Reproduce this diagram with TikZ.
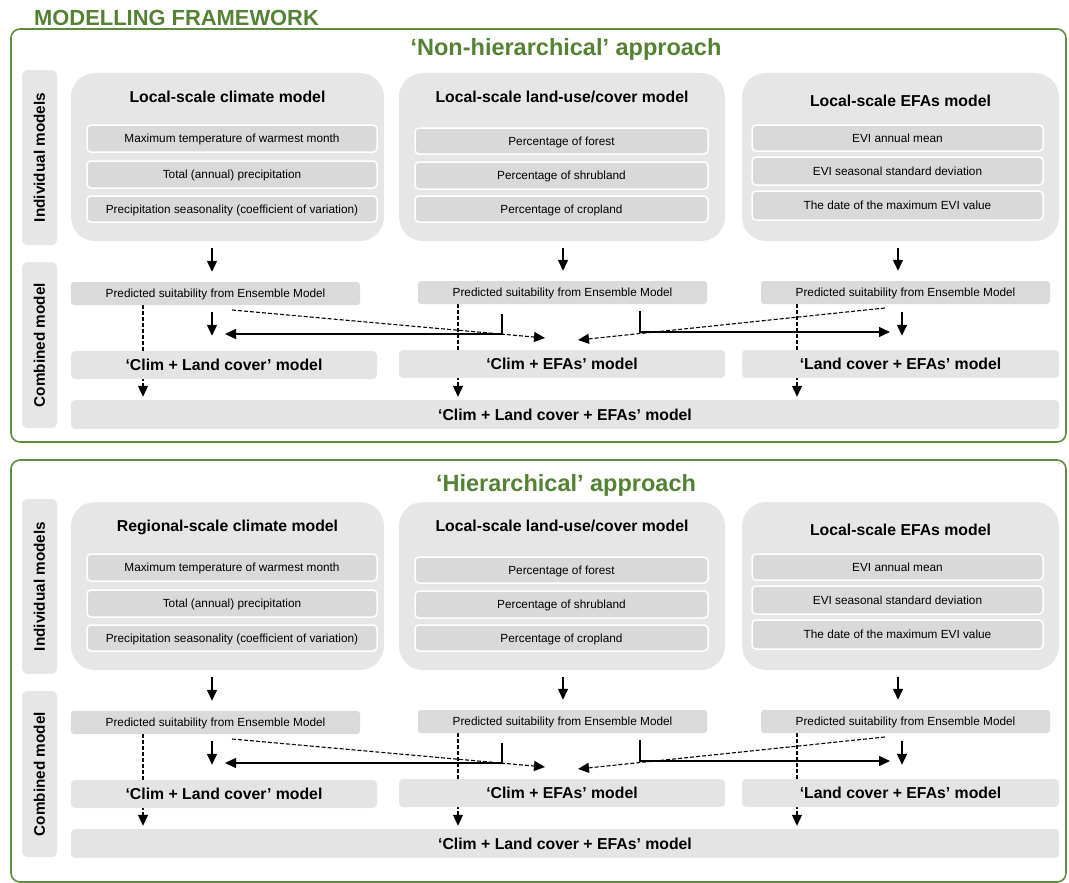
\documentclass[tikz,border=0pt]{standalone}
\usepackage{fontspec}
\setmainfont{Liberation Sans}
\usetikzlibrary{arrows.meta,backgrounds}
\definecolor{fwgreen}{HTML}{548235}
\definecolor{framegreen}{HTML}{5E8C3E}
\definecolor{bigfill}{HTML}{E6E6E6}
\definecolor{innerfill}{HTML}{D9D9D9}
\definecolor{predfill}{HTML}{DADADA}
\definecolor{combfill}{HTML}{E4E4E4}

\newcommand\fwbox[7]{\node[#6,minimum width={(#4-#2)*1pt},minimum height={(#5-#3)*1pt}] (#1) at ({(#2+#4)/2},{(#3+#5)/2}) {#7};}

\newcommand\fwsection[3]{%
\begin{scope}[yshift=-#2pt]
\fwbox{#1sI}{22}{70}{57}{245}{sidebox}{}
\node[sidelabel] (#1sIl) at (#1sI) {Individual models};
\fwbox{#1sC}{22}{262}{57}{428}{sidebox}{}
\node[sidelabel] (#1sCl) at (#1sC) {Combined model};
% individual model boxes
\fwbox{#1clim}{71}{73}{384}{241}{bigbox}{}
\node[boxtitle] (#1climT) at (227.5,97) {#3};
\fwbox{#1c1}{87}{125}{377}{152}{inbox}{Maximum temperature of warmest month}
\fwbox{#1c2}{87}{161}{377}{188}{inbox}{Total (annual) precipitation}
\fwbox{#1c3}{87}{196}{377}{222}{inbox}{Precipitation seasonality (coefficient of variation)}
\fwbox{#1land}{399}{73}{725}{241}{bigbox}{}
\node[boxtitle] (#1landT) at (562,97) {Local-scale land-use/cover model};
\fwbox{#1l1}{415}{128}{708}{154}{inbox}{Percentage of forest}
\fwbox{#1l2}{415}{162}{708}{189}{inbox}{Percentage of shrubland}
\fwbox{#1l3}{415}{196}{708}{222}{inbox}{Percentage of cropland}
\fwbox{#1efa}{742}{73}{1059}{241}{bigbox}{}
\node[boxtitle] (#1efaT) at (900.5,101) {Local-scale EFAs model};
\fwbox{#1e1}{752}{125}{1043}{151}{inbox}{EVI annual mean}
\fwbox{#1e2}{752}{157}{1043}{185}{inbox}{EVI seasonal standard deviation}
\fwbox{#1e3}{752}{191}{1043}{220}{inbox}{The date of the maximum EVI value}
% predicted suitability
\fwbox{#1pc}{71}{282}{360}{305}{predbox}{Predicted suitability from Ensemble Model}
\fwbox{#1pl}{418}{281}{707}{304}{predbox}{Predicted suitability from Ensemble Model}
\fwbox{#1pe}{761}{281}{1050}{304}{predbox}{Predicted suitability from Ensemble Model}
% combined models
\fwbox{#1cl}{71}{351}{377}{379}{combbox}{‘Clim + Land cover’ model}
\fwbox{#1ce}{399}{350}{725}{378}{combbox}{‘Clim + EFAs’ model}
\fwbox{#1le}{742}{350}{1059}{378}{combbox}{‘Land cover + EFAs’ model}
\fwbox{#1all}{71}{400}{1059}{429}{combbox}{‘Clim + Land cover + EFAs’ model}
% helper coordinates
\coordinate (#1xa) at (212,0);
\coordinate (#1xb) at (563,0);
\coordinate (#1xc) at (898,0);
\coordinate (#1xd) at (143,0);
\coordinate (#1xe) at (458,0);
\coordinate (#1xf) at (797,0);
\coordinate (#1xg) at (902,0);
\coordinate (#1d4s) at (232,310);
\coordinate (#1d4e) at (545,338);
\coordinate (#1d7s) at (885,308);
\coordinate (#1d7e) at (578,340);
\coordinate (#1h5s) at (502,314);
\coordinate (#1h5e) at (225,334);
\coordinate (#1h6s) at (640,311);
\coordinate (#1h6e) at (890,332);
% connectors
\draw[arr,shorten <=7pt,shorten >=10pt] (#1clim.south -| #1xa) -- (#1pc.north -| #1xa);
\draw[arr,shorten <=7pt,shorten >=10pt] (#1land.south -| #1xb) -- (#1pl.north -| #1xb);
\draw[arr,shorten <=7pt,shorten >=10pt] (#1efa.south -| #1xc) -- (#1pe.north -| #1xc);
\begin{pgfonlayer}{background}
\draw[darr,shorten >=3pt] (#1pc.south -| #1xd) -- (#1all.north -| #1xd);
\draw[darr,shorten >=3pt] (#1pl.south -| #1xe) -- (#1all.north -| #1xe);
\draw[darr,shorten >=3pt] (#1pe.south -| #1xf) -- (#1all.north -| #1xf);
\end{pgfonlayer}
\draw[arr,shorten <=7pt,shorten >=15pt] (#1pc.south -| #1xa) -- (#1cl.north -| #1xa);
\draw[arr,shorten <=8pt,shorten >=14pt] (#1pe.south -| #1xg) -- (#1le.north -| #1xg);
\draw[darr] (#1d4s) -- (#1d4e);
\draw[darr] (#1d7s) -- (#1d7e);
\draw[arr] (#1h5s) |- (#1h5e);
\draw[arr] (#1h6s) |- (#1h6e);
\end{scope}}

\begin{document}
\begin{tikzpicture}[x=1pt,y=-1pt,
  frame/.style={draw=framegreen,line width=1.6pt,rounded corners=9pt,inner sep=0},
  maintitle/.style={text=fwgreen,font=\bfseries\fontsize{21.9}{24}\selectfont,inner sep=0},
  apptitle/.style={text=fwgreen,font=\bfseries\fontsize{23.5}{26}\selectfont,inner sep=0},
  sidebox/.style={fill=bigfill,rounded corners=5pt,inner sep=0},
  sidelabel/.style={rotate=90,font=\bfseries\fontsize{15.3}{18}\selectfont,inner sep=0,text height=11pt,text depth=0pt},
  bigbox/.style={fill=bigfill,rounded corners=24pt,inner sep=0},
  boxtitle/.style={font=\bfseries\fontsize{15.8}{18}\selectfont,inner sep=0,text height=11.3pt,text depth=0pt},
  inbox/.style={fill=innerfill,draw=white,line width=1.5pt,rounded corners=4pt,inner sep=0,font=\fontsize{11.8}{13}\selectfont,text height=8.5pt,text depth=0pt},
  predbox/.style={fill=predfill,rounded corners=3pt,inner sep=0,font=\fontsize{11.8}{13}\selectfont,text height=8.3pt,text depth=0pt},
  combbox/.style={fill=combfill,rounded corners=4pt,inner sep=0,font=\bfseries\fontsize{15.8}{18}\selectfont,text height=11.3pt,text depth=0pt},
  arr/.style={-{Triangle[length=11pt,width=10pt]},line width=1.4pt},
  darr/.style={-{Triangle[length=11pt,width=10pt]},line width=1.1pt,dash pattern=on 4pt off 2pt}]
\useasboundingbox (0,0) rectangle (1069,883);
\node[maintitle,anchor=base west] (mf) at (34,25.5) {MODELLING FRAMEWORK};
\fwbox{frameA}{11}{29}{1066}{442}{frame}{}
\node[apptitle,anchor=base] (tA) at (566,55.5) {‘Non-hierarchical’ approach};
\fwsection{a}{0}{Local-scale climate model}
\fwbox{frameB}{11}{460}{1066}{882}{frame}{}
\node[apptitle,anchor=base] (tB) at (566,491) {‘Hierarchical’ approach};
\fwsection{b}{429}{Regional-scale climate model}
\end{tikzpicture}
\end{document}
